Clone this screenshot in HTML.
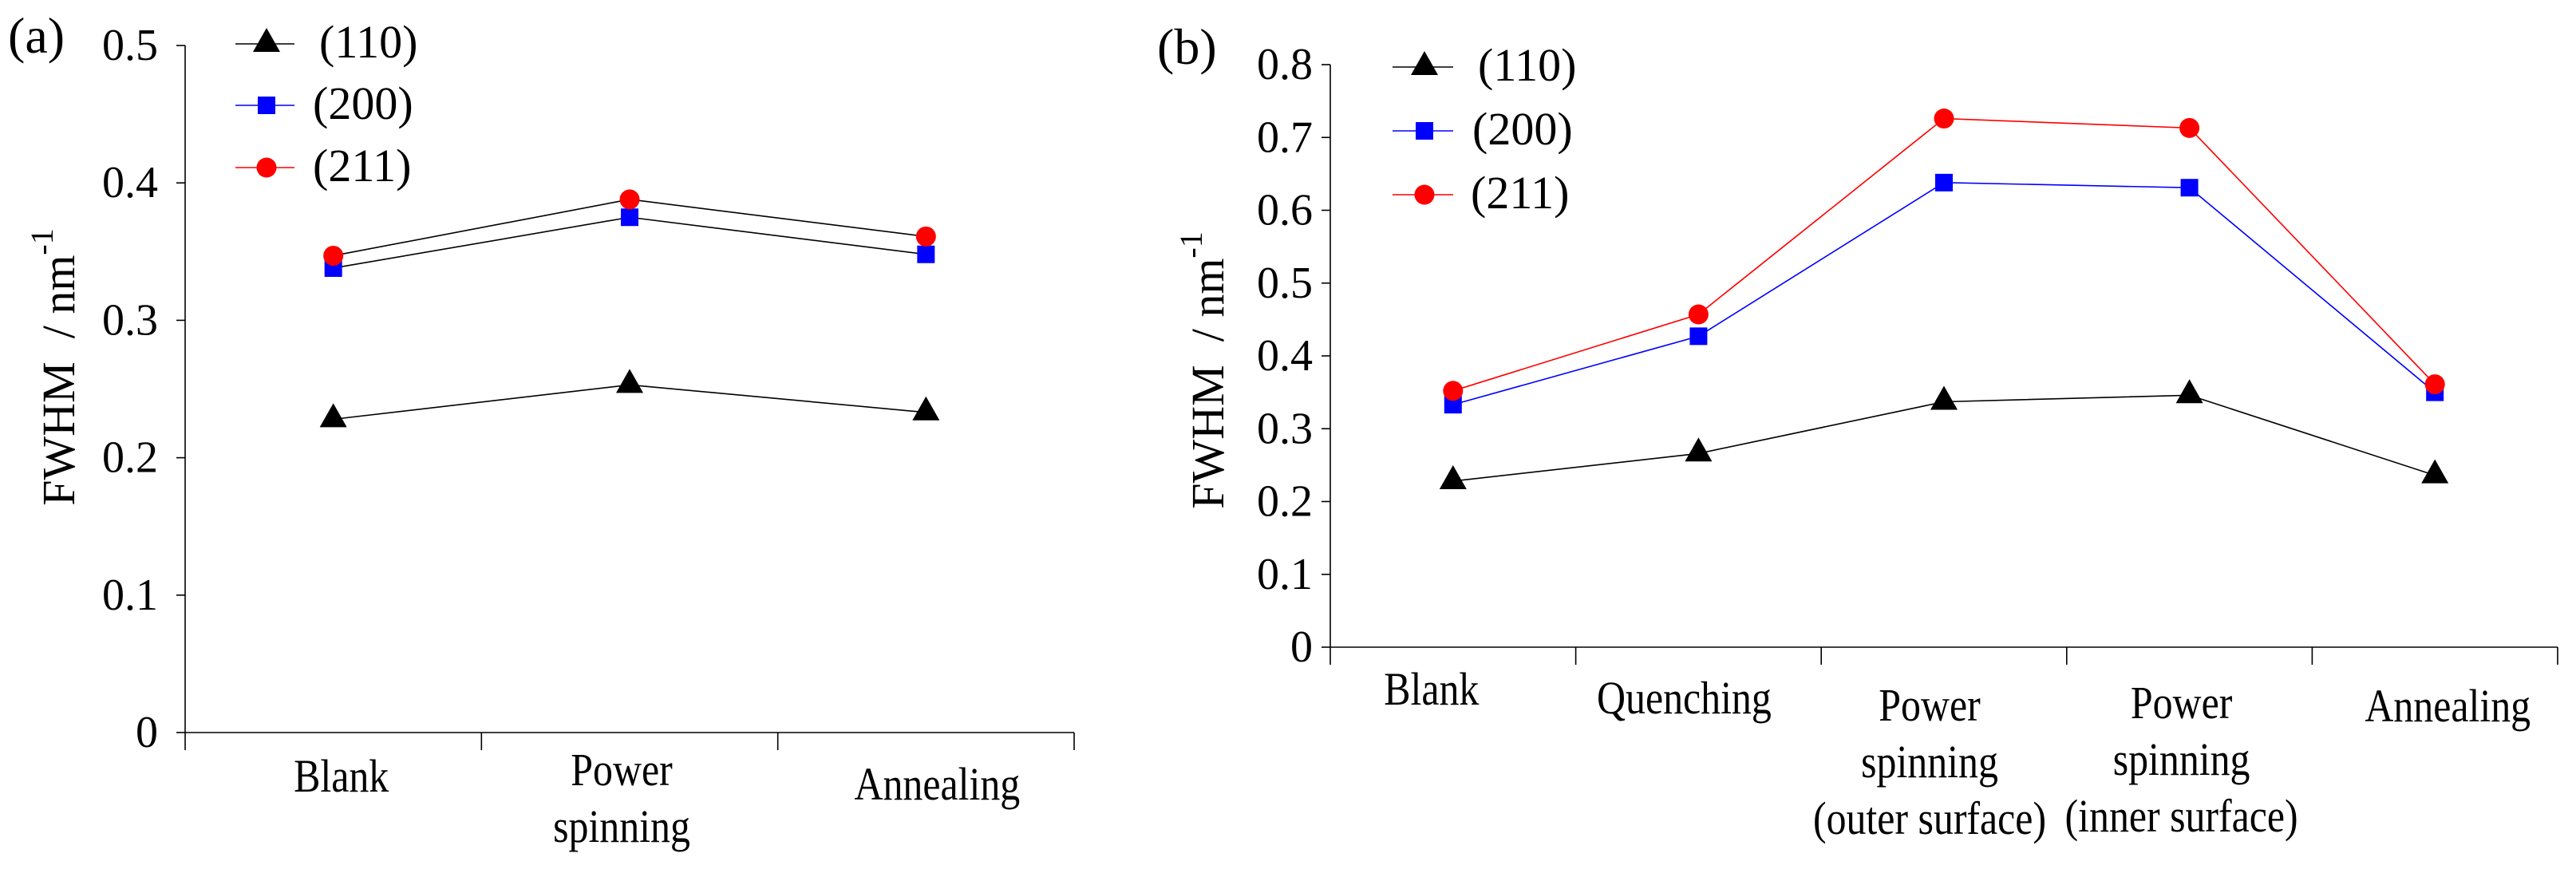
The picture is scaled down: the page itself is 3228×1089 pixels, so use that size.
<!DOCTYPE html>
<html><head><meta charset="utf-8"><style>
html,body{margin:0;padding:0;background:#fff;}
svg{display:block;font-family:"Liberation Serif","Times New Roman",serif;}
text,tspan{font-family:"Liberation Serif","Times New Roman",serif;fill:#000;}
</style></head><body>
<svg id="fig" width="3228" height="1089" viewBox="0 0 3228 1089" font-family="Liberation Serif, serif">
<g id="pa"></g>
<g id="pb"></g>
</svg>
<script>
// Panel (a) data
const catsA = [["Blank"], ["Power", "spinning"], ["Annealing"]];
const a110 = [0.228, 0.253, 0.233];
const a200 = [0.338, 0.375, 0.348];
const a211 = [0.347, 0.388, 0.361];
const ticksA = ["0", "0.1", "0.2", "0.3", "0.4", "0.5"];
// Panel (b) data
const catsB = [["Blank"], ["Quenching"], ["Power", "spinning", "(outer surface)"], ["Power", "spinning", "(inner surface)"], ["Annealing"]];
const b110 = [0.228, 0.266, 0.337, 0.346, 0.236];
const b200 = [0.333, 0.427, 0.638, 0.631, 0.350];
const b211 = [0.352, 0.457, 0.726, 0.713, 0.361];
const ticksB = ["0", "0.1", "0.2", "0.3", "0.4", "0.5", "0.6", "0.7", "0.8"];
const seriesNames = ["(110)", "(200)", "(211)"];

const NS = "http://www.w3.org/2000/svg";
const FF = "Liberation Serif, serif";
function mk(parent, tag, attrs) {
  const e = document.createElementNS(NS, tag);
  for (const k in attrs) e.setAttribute(k, attrs[k]);
  if (tag === "text") e.setAttribute("font-family", FF);
  parent.appendChild(e);
  return e;
}
function marker(g, kind, x, y, color) {
  let m;
  if (kind === 0) m = mk(g, "polygon", {points: `${x-17},${y+10} ${x},${y-20} ${x+17},${y+10}`, fill: "#000"});
  else if (kind === 1) m = mk(g, "rect", {x: x-11, y: y-11, width: 22, height: 22, fill: color});
  else m = mk(g, "circle", {cx: x, cy: y, r: 12.5, fill: color});
  return m;
}

function panel(cfg) {
  const g = document.getElementById(cfg.id);
  const n = cfg.cats.length;
  const step = (cfg.x1 - cfg.x0) / n;
  const xs = i => cfg.x0 + step * (i + 0.5);
  const ys = v => cfg.y0 - (v / cfg.ymax) * (cfg.y0 - cfg.ytop);
  const ax = mk(g, "line", {x1: cfg.x0, y1: cfg.ytop, x2: cfg.x0, y2: cfg.y0, stroke: "#000", "stroke-width": 1.6});
  
  
  const bx = mk(g, "line", {x1: cfg.x0, y1: cfg.y0, x2: cfg.x1, y2: cfg.y0, stroke: "#000", "stroke-width": 1.6});
  
  
  cfg.ticks.forEach((t) => {
    const v = parseFloat(t);
    const y = ys(v);
    mk(g, "line", {x1: cfg.x0 - 11, y1: y, x2: cfg.x0, y2: y, stroke: "#000", "stroke-width": 1.6});
    const tx = mk(g, "text", {x: cfg.tickRight, y: y + 18, "font-size": 56, "text-anchor": "end"});
    tx.textContent = t;
    
    
  });
  for (let i = 0; i <= n; i++) {
    const x = cfg.x0 + step * i;
    mk(g, "line", {x1: x, y1: cfg.y0, x2: x, y2: cfg.y0 + 22, stroke: "#000", "stroke-width": 1.6});
  }
  cfg.cats.forEach((lines, i) => {
    lines.forEach((s, j) => {
      const cx = xs(i) + (cfg.catDx ? cfg.catDx[i] : 0);
      const cy = cfg.catY[i] + j * 71;
      const t = mk(g, "text", {x: 0, y: 0, "font-size": 58, "text-anchor": "middle", transform: `translate(${cx},${cy}) scale(0.86,1)`});
      t.textContent = s;
      
      
    });
  });
  const data = [cfg.s110, cfg.s200, cfg.s211];
  const colors = ["#000", "#0000ff", "#ff0000"];
  data.forEach((arr, k) => {
    const pts = arr.map((v, i) => `${xs(i)},${ys(v)}`).join(" ");
    const pl = mk(g, "polyline", {points: pts, fill: "none", stroke: cfg.lineColors[k], "stroke-width": 1.6});
    
    
  });
  [0, 1, 2].forEach(k => {
    data[k].forEach((v, i) => {
      const m = marker(g, k, xs(i), ys(v), colors[k]);
      
      
    });
  });
  cfg.legY.forEach((ly, k) => {
    mk(g, "line", {x1: cfg.legX0, y1: ly, x2: cfg.legX1, y2: ly, stroke: colors[k], "stroke-width": 1.6});
    const m = marker(g, k, cfg.legM, ly, colors[k]);
    
    
    const t = mk(g, "text", {x: cfg.legT[k], y: ly + 17, "font-size": 58});
    t.textContent = seriesNames[k];
    
    
  });
  const pl = mk(g, "text", {x: cfg.lblX, y: cfg.lblY, "font-size": 64});
  pl.textContent = cfg.label;
  
  
  const yt = mk(g, "text", {x: 0, y: 0, "font-size": 58, "text-anchor": "middle", transform: `translate(${cfg.ytX},${cfg.ytY}) rotate(-90)`});
  
  
  yt.setAttribute('xml:space', 'preserve');
  yt.appendChild(document.createTextNode("FWHM\u00a0\u00a0/ nm"));
  const sup = mk(yt, "tspan", {dy: -27, "font-size": 40});
  sup.textContent = "-1";
}

panel({id: "pa", cats: catsA, s110: a110, s200: a200, s211: a211, ticks: ticksA,
  x0: 232, x1: 1346, y0: 918, ytop: 57, ymax: 0.5, tickRight: 198,
  catY: [992, 984, 1002], catDx: [10, -10, 14],
  lineColors: ["#000", "#000", "#000"],
  legY: [55, 132, 210], legX0: 295, legX1: 369, legM: 334, legT: [400, 392, 392],
  label: "(a)", lblX: 10, lblY: 66, ytX: 93, ytY: 460});

panel({id: "pb", cats: catsB, s110: b110, s200: b200, s211: b211, ticks: ticksB,
  x0: 1667, x1: 3205, y0: 811, ytop: 81, ymax: 0.8, tickRight: 1645,
  catY: [883, 894, 903, 900, 904], catDx: [-27, -18, -18, -10, 16],
  lineColors: ["#000", "#0000ff", "#ff0000"],
  legY: [84, 164, 244], legX0: 1745, legX1: 1821, legM: 1785, legT: [1852, 1845, 1843],
  label: "(b)", lblX: 1450, lblY: 80, ytX: 1533, ytY: 464});
</script>
</body></html>
